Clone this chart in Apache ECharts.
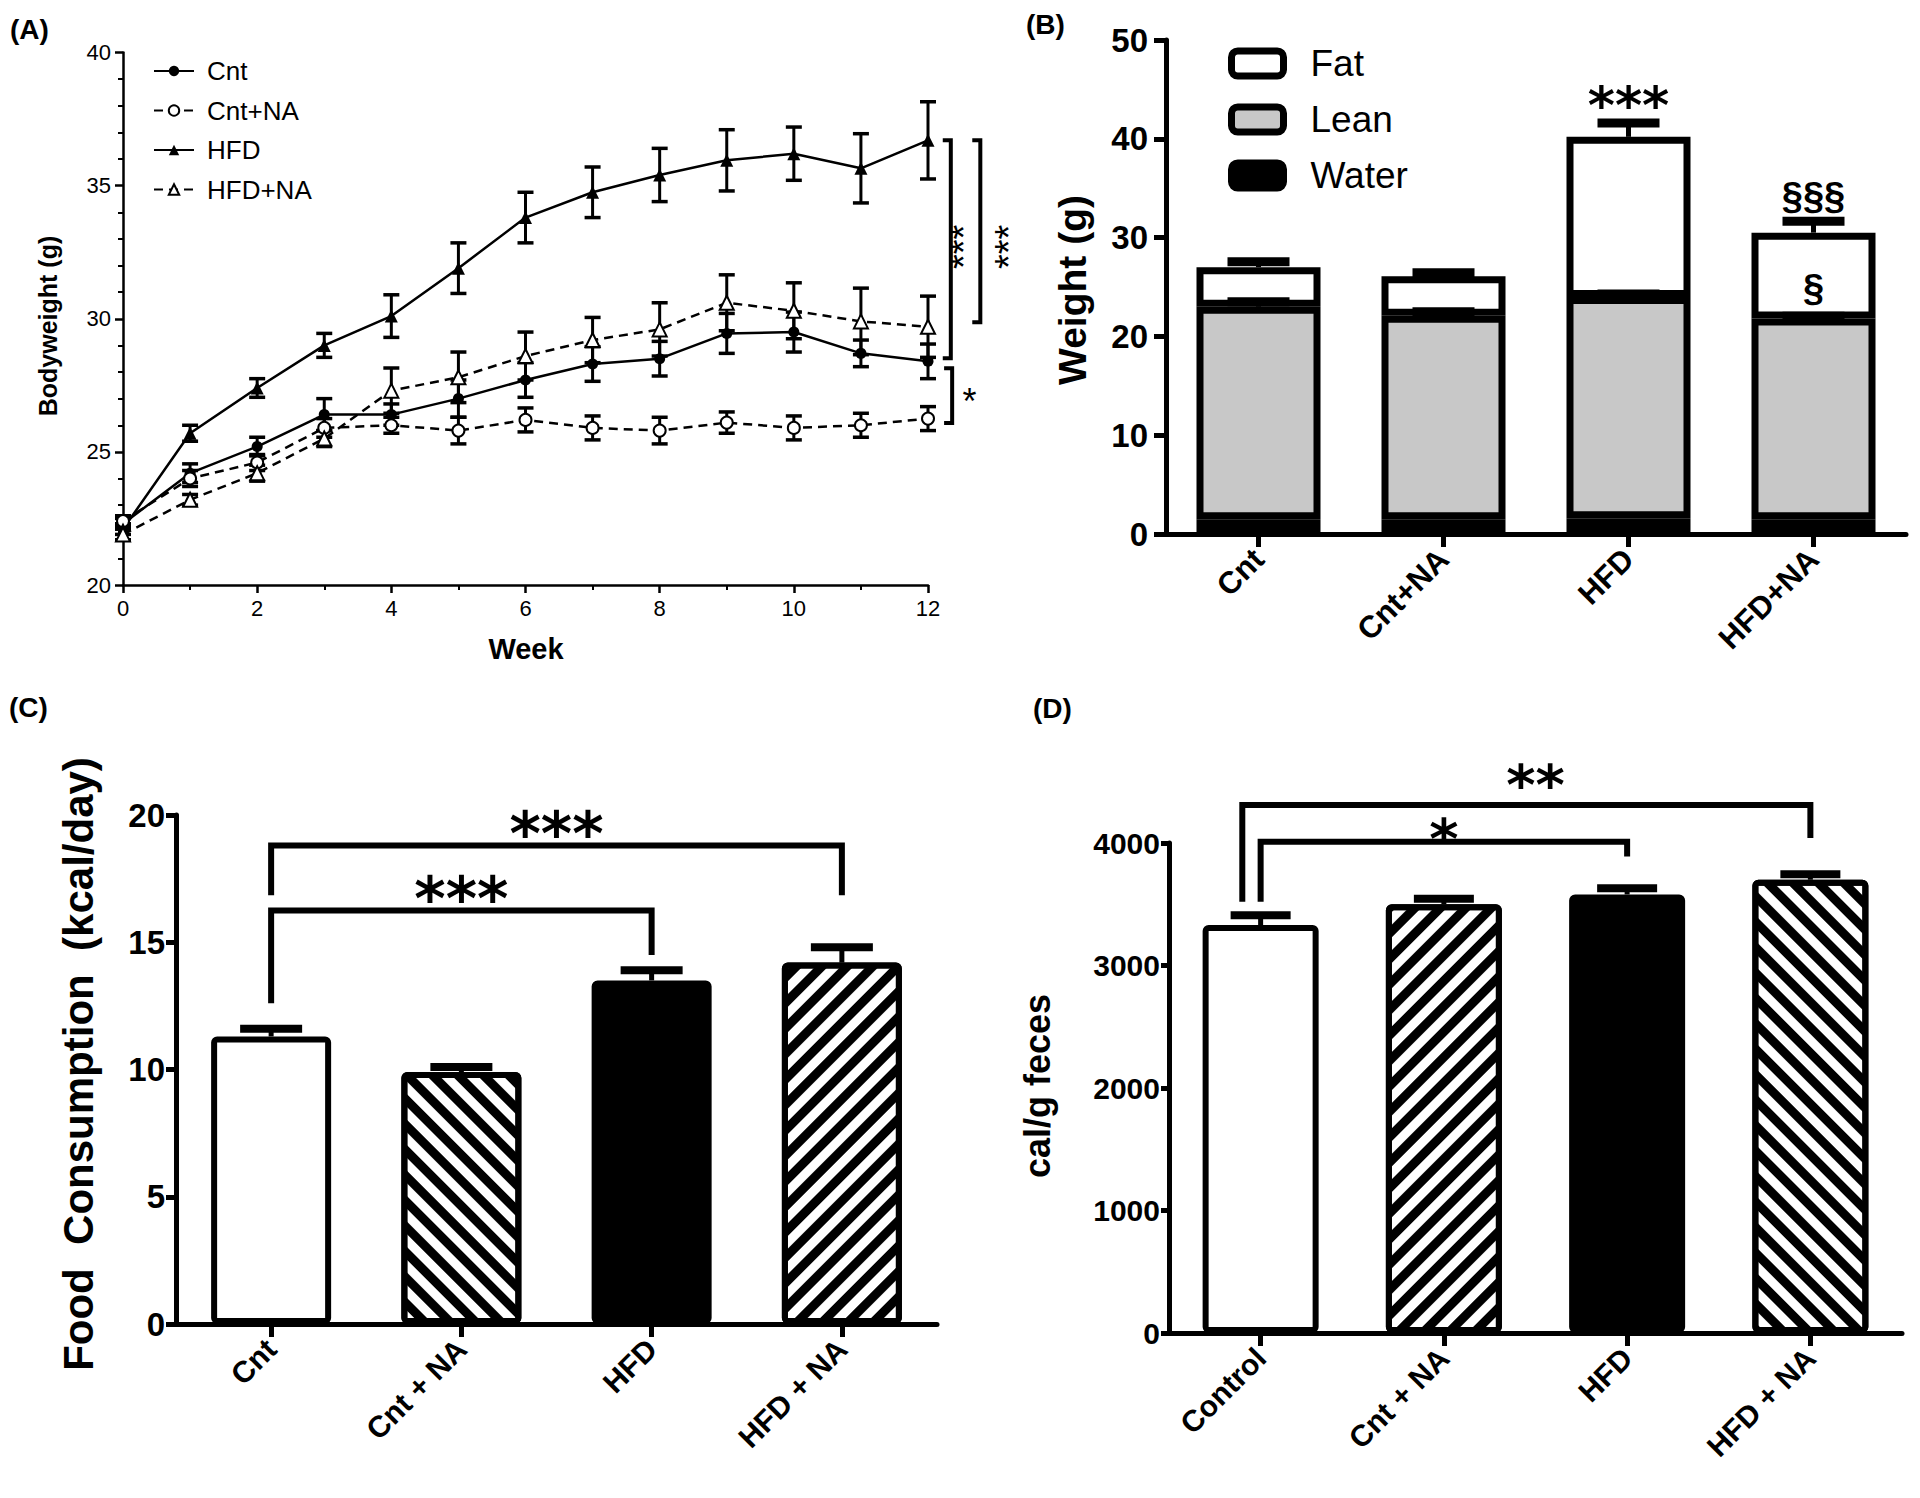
<!DOCTYPE html>
<html><head><meta charset="utf-8">
<script src="https://cdn.jsdelivr.net/npm/echarts@6/dist/echarts.min.js"></script>
<style>html,body{margin:0;padding:0;background:#fff}#c{width:1920px;height:1498px}</style>
</head><body><div id="c"></div>
<script>
// ---------- DATA ----------
// Panel A: bodyweight over weeks
const weeks = [0,1,2,3,4,5,6,7,8,9,10,11,12];
const cnt      = [22.3,24.2,25.2,26.4,26.4,27.0,27.7,28.3,28.5,29.45,29.5,28.7,28.4];
const cntErr   = [0.2,0.35,0.35,0.6,0.4,0.7,0.65,0.65,0.65,0.75,0.75,0.5,0.65];
const cntNA    = [22.4,24.0,24.6,25.9,26.0,25.8,26.2,25.9,25.8,26.1,25.9,26.0,26.25];
const cntNAErr = [0.2,0.3,0.3,0.35,0.3,0.5,0.45,0.45,0.5,0.4,0.45,0.45,0.45];
const hfd      = [22.1,25.7,27.4,29.0,30.1,31.9,33.8,34.75,35.4,35.95,36.2,35.65,36.7];
const hfdErr   = [0.2,0.3,0.35,0.45,0.8,0.95,0.95,0.95,1.0,1.15,1.0,1.3,1.45];
const hfdNA    = [21.9,23.2,24.2,25.5,27.3,27.8,28.6,29.2,29.6,30.6,30.3,29.9,29.7];
const hfdNAErr = [0.2,0.2,0.3,0.3,0.85,0.95,0.9,0.85,1.0,1.05,1.05,1.25,1.15];
const seriesNamesA = ['Cnt','Cnt+NA','HFD','HFD+NA'];
const bracketsA = [
  [[12.22,36.7],[12.34,36.7],[12.34,28.52],[12.22,28.52]],
  [[12.66,36.7],[12.78,36.7],[12.78,29.87],[12.66,29.87]],
  [[12.24,28.14],[12.36,28.14],[12.36,26.08],[12.24,26.08]]
];
const starsAText = ['***','***','*'];
const starsAPos  = [[12.54,32.7],[13.2,32.7],[12.62,26.9]];

// Panel B: body composition
const catB = ['Cnt','Cnt+NA','HFD','HFD+NA'];
const water = [1.5,1.5,1.6,1.5];
const lean  = [21.5,20.6,22.4,20.3];
const fat   = [4.0,4.0,16.2,8.7];
const leanErr = [0.5,0.4,0.3,0.25];
const totalErr = [0.55,0.35,1.4,1.15];
const starsBText = ['***','§§§','§'];
const starsBPos  = [[2,43.4],[3,34.2],[3,24.9]];

// Panel C: food consumption
const catC = ['Cnt','Cnt + NA','HFD','HFD + NA'];
const food = [11.3,9.9,13.5,14.2];
const foodErr = [0.3,0.2,0.4,0.6];
const bracketsC = [
  [[0,12.6],[0,16.25],[2,16.25],[2,14.5]],
  [[0,16.85],[0,18.8],[3,18.8],[3,16.85]]
];
const starsCText = ['***','***'];
const starsCPos  = [[1,16.7],[1.5,19.25]];

// Panel D: fecal energy
const catD = ['Control','Cnt + NA','HFD','HFD + NA'];
const feces = [3330,3500,3580,3700];
const fecesErr = [80,45,50,45];
const bracketsD = [
  [[-0.1,3520],[-0.1,4310],[3,4310],[3,4040]],
  [[0,3520],[0,4010],[2,4010],[2,3890]]
];
const starsDText = ['**','*'];
const starsDPos  = [[1.5,4480],[1,4040]];

// ---------- STYLES ----------
const FF = "'Liberation Sans', Arial, Helvetica, sans-serif";
const FS = "'DejaVu Sans', 'Liberation Sans', sans-serif";
const BLACK = '#000';
function stripes(rot){
  return {symbol:'rect', symbolSize:1, color:'#000', backgroundColor:'#fff',
          dashArrayX:[1,0], dashArrayY:[9,9], rotation:rot};
}
const barStylesC = [
  {color:'#fff'},
  {color:'#fff', decal:stripes(Math.PI/4)},
  {color:'#000'},
  {color:'#fff', decal:stripes(-Math.PI/4)}
];
const barStylesD = [
  {color:'#fff'},
  {color:'#fff', decal:stripes(-Math.PI/4)},
  {color:'#000'},
  {color:'#fff', decal:stripes(Math.PI/4)}
];

function errBar(capHalf, stemW, capW, both){
  return function(params, api){
    const x = api.value(0), y = api.value(1), e = api.value(2);
    const c = api.coord([x,y]), t = api.coord([x,y+e]), b = api.coord([x,y-e]);
    const ch = [
      {type:'line', shape:{x1:c[0],y1:t[1],x2:c[0],y2: both ? b[1] : c[1]}, style:{stroke:BLACK,lineWidth:stemW}},
      {type:'line', shape:{x1:c[0]-capHalf,y1:t[1],x2:c[0]+capHalf,y2:t[1]}, style:{stroke:BLACK,lineWidth:capW}}
    ];
    if (both) ch.push({type:'line', shape:{x1:c[0]-capHalf,y1:b[1],x2:c[0]+capHalf,y2:b[1]}, style:{stroke:BLACK,lineWidth:capW}});
    return {type:'group', children:ch};
  };
}
function errSeries(xi, yi, data, capHalf, stemW, capW, both, z){
  return {type:'custom', xAxisIndex:xi, yAxisIndex:yi, renderItem:errBar(capHalf,stemW,capW,both),
          data:data, encode:{x:0,y:1}, clip:false, silent:true, z:z||4};
}
function bracketSeries(xi, yi, brackets, w){
  return {type:'custom', xAxisIndex:xi, yAxisIndex:yi, clip:false, silent:true, z:5,
    data: brackets.map(b => b.flat()),
    encode:{x:[0,2,4,6], y:[1,3,5,7]},
    renderItem:function(params, api){
      const pts = [0,1,2,3].map(k => api.coord([api.value(2*k), api.value(2*k+1)]));
      return {type:'polyline', shape:{points:pts},
              style:{stroke:BLACK, lineWidth:w, fill:null, lineJoin:'miter', lineCap:'butt'}};
    }};
}
function starSeries(xi, yi, pos, texts, size, weight, rot, fam){
  return {type:'custom', xAxisIndex:xi, yAxisIndex:yi, data:pos, encode:{x:0,y:1}, clip:false, silent:true, z:6,
    renderItem:function(params, api){
      const p = api.coord([api.value(0), api.value(1)]);
      return {type:'text', x:p[0], y:p[1], rotation:(rot||0)*Math.PI/180,
              style:{text:texts[params.dataIndex], fill:BLACK, fontSize:size, fontWeight:weight,
                     fontFamily:fam||FF, align:'center', verticalAlign:'middle'}};
    }};
}

// ---------- AXES ----------
const thinAxis = {lineStyle:{color:BLACK,width:2.5}};
const thickAxis = {lineStyle:{color:BLACK,width:5}};
function catAxis(grid, data, fs){
  return {type:'category', gridIndex:grid, data:data,
    axisLine:{show:true, onZero:false, ...thickAxis},
    axisTick:{show:true, alignWithLabel:true, length:13, lineStyle:{color:BLACK,width:5}},
    axisLabel:{rotate:45, fontSize:fs, fontWeight:'bold', fontFamily:FF, color:BLACK, margin:20},
    splitLine:{show:false}};
}
function valAxisBold(grid, min, max, interval, fs, tick, margin){
  return {type:'value', gridIndex:grid, min:min, max:max, interval:interval,
    axisLine:{show:true, onZero:false, ...thickAxis},
    axisTick:{show:true, length:tick, lineStyle:{color:BLACK,width:5}},
    axisLabel:{fontSize:fs, fontWeight:'bold', fontFamily:FF, color:BLACK, margin:margin,
               formatter:v => String(v)},
    splitLine:{show:false}};
}
function hiddenX(grid){
  return {type:'value', gridIndex:grid, min:-0.5, max:3.5, show:false};
}

// ---------- SERIES A ----------
const lineA = (name, vals, symbol, size, dashed) => ({
  type:'line', name:name, xAxisIndex:0, yAxisIndex:0,
  data: weeks.map((w,i)=>[w, vals[i]]),
  symbol:symbol, symbolSize:size, z:3,
  itemStyle:{color:BLACK, borderColor:BLACK, borderWidth: symbol.startsWith('empty') ? 3 : 0},
  lineStyle:{color:BLACK, width:2.5, type: dashed ? [9,6] : 'solid'}
});
const errA = (vals, errs) => errSeries(0, 0, weeks.map((w,i)=>[w, vals[i], errs[i]]), 8, 3, 3.5, true, 2);

const series = [
  lineA(seriesNamesA[0], cnt, 'circle', 11, false),
  lineA(seriesNamesA[1], cntNA, 'emptyCircle', 12, true),
  lineA(seriesNamesA[2], hfd, 'triangle', 13, false),
  lineA(seriesNamesA[3], hfdNA, 'emptyTriangle', 14, true),
  errA(cnt, cntErr), errA(cntNA, cntNAErr), errA(hfd, hfdErr), errA(hfdNA, hfdNAErr),
  bracketSeries(0, 0, bracketsA, 4),
  starSeries(0, 0, starsAPos.slice(0,2), starsAText.slice(0,2), 38, 'normal', 90),
  starSeries(0, 0, starsAPos.slice(2), starsAText.slice(2), 36, 'normal', 0),

  // ---------- SERIES B ----------
  {type:'bar', name:'Water', stack:'B', xAxisIndex:1, yAxisIndex:1, data:water, barWidth:124,
   itemStyle:{color:'#000', borderColor:BLACK, borderWidth:7}},
  {type:'bar', name:'Lean', stack:'B', xAxisIndex:1, yAxisIndex:1, data:lean, barWidth:124,
   itemStyle:{color:'#c8c8c8', borderColor:BLACK, borderWidth:7}},
  {type:'bar', name:'Fat', stack:'B', xAxisIndex:1, yAxisIndex:1, data:fat, barWidth:124,
   itemStyle:{color:'#fff', borderColor:BLACK, borderWidth:7}},
  errSeries(1, 1, catB.map((c,i)=>[i, water[i]+lean[i], leanErr[i]]), 31, 5, 9, false, 4),
  errSeries(1, 1, catB.map((c,i)=>[i, water[i]+lean[i]+fat[i], totalErr[i]]), 31, 5, 9, false, 4),
  starSeries(1, 1, starsBPos.slice(0,1), starsBText.slice(0,1), 52, 'bold', 0, FS),
  starSeries(1, 1, starsBPos.slice(1), starsBText.slice(1), 38, 'bold', 0),

  // ---------- SERIES C ----------
  {type:'bar', xAxisIndex:2, yAxisIndex:2, barWidth:120,
   data: food.map((v,i)=>({value:v, itemStyle:{...barStylesC[i], borderColor:BLACK, borderWidth:6, borderRadius:3}}))},
  errSeries(2, 2, catC.map((c,i)=>[i, food[i], foodErr[i]]), 31, 5, 8, false, 4),
  bracketSeries(3, 2, bracketsC, 6),
  starSeries(3, 2, starsCPos, starsCText, 60, 'bold', 0, FS),

  // ---------- SERIES D ----------
  {type:'bar', xAxisIndex:4, yAxisIndex:3, barWidth:116,
   data: feces.map((v,i)=>({value:v, itemStyle:{...barStylesD[i], borderColor:BLACK, borderWidth:6, borderRadius:3}}))},
  errSeries(4, 3, catD.map((c,i)=>[i, feces[i], fecesErr[i]]), 30, 5, 8, false, 4),
  bracketSeries(5, 3, bracketsD, 6),
  starSeries(5, 3, starsDPos, starsDText, 56, 'bold', 0, FS)
];

const option = {
  animation:false,
  backgroundColor:'#fff',
  textStyle:{fontFamily:FF, color:BLACK},
  grid:[
    {left:123, top:52.5, width:805, height:532.5},
    {left:1166, top:40, width:740, height:494},
    {left:176, top:815, width:761, height:509},
    {left:1169, top:843, width:733, height:490}
  ],
  xAxis:[
    {type:'value', gridIndex:0, min:0, max:12, interval:2,
     axisLine:{show:true, onZero:false, ...thinAxis},
     axisTick:{show:true, length:8, lineStyle:{color:BLACK,width:2.5}},
     minorTick:{show:true, splitNumber:2, length:5, lineStyle:{color:BLACK,width:2}},
     axisLabel:{fontSize:22, fontFamily:FF, color:BLACK, margin:12},
     splitLine:{show:false}, minorSplitLine:{show:false}},
    catAxis(1, catB, 31),
    catAxis(2, catC, 30),
    hiddenX(2),
    catAxis(3, catD, 30),
    hiddenX(3)
  ],
  yAxis:[
    {type:'value', gridIndex:0, min:20, max:40, interval:5,
     axisLine:{show:true, onZero:false, ...thinAxis},
     axisTick:{show:true, length:8, lineStyle:{color:BLACK,width:2.5}},
     minorTick:{show:true, splitNumber:5, length:5, lineStyle:{color:BLACK,width:2}},
     axisLabel:{fontSize:22, fontFamily:FF, color:BLACK, margin:12},
     splitLine:{show:false}, minorSplitLine:{show:false}},
    valAxisBold(1, 0, 50, 10, 33, 12, 18),
    valAxisBold(2, 0, 20, 5, 33, 10, 11),
    valAxisBold(3, 0, 4000, 1000, 30, 8, 9)
  ],
  legend:[
    {data:seriesNamesA, orient:'vertical', left:148, top:53, itemWidth:40, itemHeight:13, itemGap:13.5,
     textStyle:{fontSize:26, fontFamily:FF, color:BLACK, padding:[0,0,0,8]}, selectedMode:false},
    {data:['Fat','Lean','Water'], orient:'vertical', left:1223, top:40, itemWidth:52, itemHeight:25, itemGap:19,
     icon:'roundRect', itemStyle:{borderColor:BLACK, borderWidth:7},
     textStyle:{fontSize:37, fontFamily:FF, color:BLACK, padding:[0,0,0,22]}, selectedMode:false}
  ],
  graphic:[
    {type:'text', x:10, y:29, style:{text:'(A)', fontSize:28, fontWeight:'bold', fontFamily:FF, fill:BLACK, align:'left', verticalAlign:'middle'}},
    {type:'text', x:1026, y:24, style:{text:'(B)', fontSize:28, fontWeight:'bold', fontFamily:FF, fill:BLACK, align:'left', verticalAlign:'middle'}},
    {type:'text', x:9, y:707, style:{text:'(C)', fontSize:28, fontWeight:'bold', fontFamily:FF, fill:BLACK, align:'left', verticalAlign:'middle'}},
    {type:'text', x:1033, y:708, style:{text:'(D)', fontSize:28, fontWeight:'bold', fontFamily:FF, fill:BLACK, align:'left', verticalAlign:'middle'}},
    {type:'text', x:48, y:326, rotation:Math.PI/2, style:{text:'Bodyweight (g)', fontSize:25, fontWeight:'bold', fontFamily:FF, fill:BLACK, align:'center', verticalAlign:'middle'}},
    {type:'text', x:526, y:649, style:{text:'Week', fontSize:29, fontWeight:'bold', fontFamily:FF, fill:BLACK, align:'center', verticalAlign:'middle'}},
    {type:'text', x:1072, y:290, rotation:Math.PI/2, style:{text:'Weight (g)', fontSize:39, fontWeight:'bold', fontFamily:FF, fill:BLACK, align:'center', verticalAlign:'middle'}},
    {type:'text', x:78, y:1064, rotation:Math.PI/2, style:{text:'Food  Consumption  (kcal/day)', fontSize:42, fontWeight:'bold', fontFamily:FF, fill:BLACK, align:'center', verticalAlign:'middle'}},
    {type:'text', x:1037, y:1086, rotation:Math.PI/2, style:{text:'cal/g feces', fontSize:36, fontWeight:'bold', fontFamily:FF, fill:BLACK, align:'center', verticalAlign:'middle'}}
  ],
  series: series
};
const chart = echarts.init(document.getElementById('c'), null, {renderer:'svg', width:1920, height:1498});
chart.setOption(option);
</script>
</body></html>
